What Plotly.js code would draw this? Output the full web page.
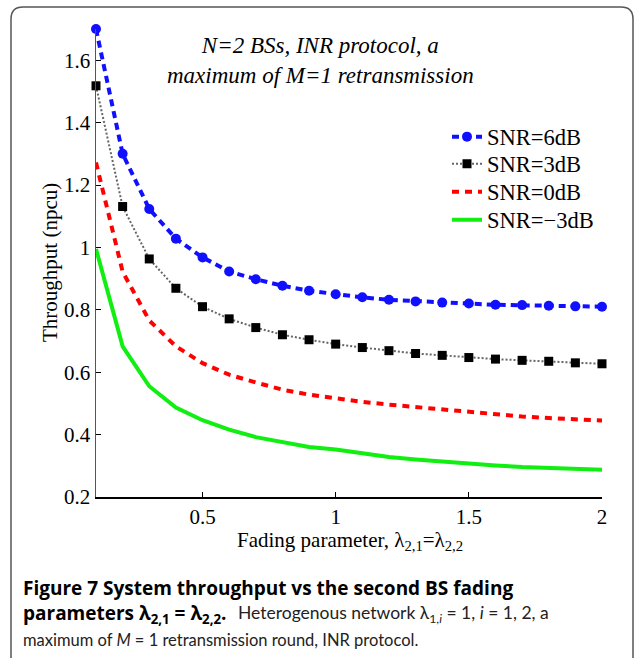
<!DOCTYPE html>
<html>
<head>
<meta charset="utf-8">
<script src="https://cdn.plot.ly/plotly-3.0.1.min.js"></script>
<style>html,body{margin:0;padding:0;background:#fff;}#chart{width:635px;height:658px;}</style>
</head>
<body>
<div id="chart"></div>
<script>
// ---- data ----
const fading = [0.1, 0.2, 0.3, 0.4, 0.5, 0.6, 0.7, 0.8, 0.9, 1.0, 1.1, 1.2, 1.3, 1.4, 1.5, 1.6, 1.7, 1.8, 1.9, 2.0];
const snr6  = [1.700, 1.300, 1.123, 1.028, 0.968, 0.923, 0.898, 0.877, 0.861, 0.850, 0.840, 0.832, 0.827, 0.823, 0.820, 0.816, 0.815, 0.813, 0.811, 0.810];
const snr3  = [1.518, 1.131, 0.963, 0.869, 0.810, 0.771, 0.743, 0.720, 0.704, 0.690, 0.679, 0.669, 0.660, 0.654, 0.647, 0.642, 0.638, 0.635, 0.630, 0.627];
const snr0  = [1.272, 0.922, 0.766, 0.683, 0.629, 0.592, 0.567, 0.544, 0.528, 0.515, 0.505, 0.496, 0.488, 0.480, 0.471, 0.465, 0.458, 0.453, 0.449, 0.445];
const snrm3 = [0.995, 0.683, 0.555, 0.487, 0.446, 0.416, 0.392, 0.375, 0.360, 0.352, 0.339, 0.328, 0.320, 0.313, 0.306, 0.301, 0.296, 0.292, 0.289, 0.287];
const seriesNames = ['SNR=6dB', 'SNR=3dB', 'SNR=0dB', 'SNR=\u22123dB'];
const yTickVals = [0.2, 0.4, 0.6, 0.8, 1.0, 1.2, 1.4, 1.6];
const yTickText = ['0.2', '0.4', '0.6', '0.8', '1', '1.2', '1.4', '1.6'];
const xTickVals = [0.5, 1.0, 1.5, 2.0];
const xTickText = ['0.5', '1', '1.5', '2'];

// ---- geometry ----
const W = 635, H = 658;
const L = 96, R = 602, T = 29, B = 497;
const px2x = p => (p - L) / (R - L);
const px2y = p => (B - p) / (B - T);

const serif = 'Liberation Serif, Times New Roman, serif';
const sansBold = 'Open Sans, Lato, sans-serif';
const sans = 'Lato, Open Sans, sans-serif';

const traces = [
  {x: fading, y: snr6, name: seriesNames[0], mode: 'lines+markers', legend: 'legend', cliponaxis: false,
   line: {color: '#1010ff', width: 4, dash: '7px,5px'},
   marker: {symbol: 'circle', size: 10, color: '#1010ff'}},
  {x: fading, y: snr3, name: seriesNames[1], mode: 'lines+markers', legend: 'legend2', cliponaxis: false,
   line: {color: '#666666', width: 2, dash: '2px,2px'},
   marker: {symbol: 'square', size: 9, color: '#000000'}},
  {x: fading, y: snr0, name: seriesNames[2], mode: 'lines', legend: 'legend3', cliponaxis: false,
   line: {color: '#ff0000', width: 4, dash: '7px,6px'}},
  {x: fading, y: snrm3, name: seriesNames[3], mode: 'lines', legend: 'legend4', cliponaxis: false,
   line: {color: '#11ee11', width: 4}}
];

// rounded frame path (paper coords)
const fl = px2x(11), fr = px2x(633), ft = px2y(7), fb = px2y(700);
const rx = 12 / (R - L), ry = 12 / (B - T);
const framePath = `M ${fl},${fb} L ${fl},${ft - ry} Q ${fl},${ft} ${fl + rx},${ft} L ${fr - rx},${ft} Q ${fr},${ft} ${fr},${ft - ry} L ${fr},${fb}`;

function legendAt(rowPx) {
  return {
    x: px2x(447), y: px2y(rowPx), xanchor: 'left', yanchor: 'middle',
    font: {family: serif, size: 22.5, color: '#000'},
    bgcolor: 'rgba(0,0,0,0)', borderwidth: 0, itemwidth: 30
  };
}

const layout = {
  width: W, height: H,
  margin: {l: L, r: W - R, t: T, b: H - B, pad: 0},
  paper_bgcolor: '#ffffff', plot_bgcolor: '#ffffff',
  showlegend: true,
  legend: legendAt(137),
  legend2: legendAt(164),
  legend3: legendAt(192),
  legend4: legendAt(220),
  xaxis: {
    range: [0.1, 2.0], tickvals: xTickVals, ticktext: xTickText,
    ticks: 'inside', ticklen: 5, tickcolor: '#000', tickwidth: 1,
    showline: true, linecolor: '#000', linewidth: 1.5, mirror: false,
    showgrid: false, zeroline: false,
    tickfont: {family: serif, size: 21, color: '#000'}
  },
  yaxis: {
    range: [0.2, 1.7], tickvals: yTickVals, ticktext: yTickText,
    ticks: 'inside', ticklen: 5, tickcolor: '#000', tickwidth: 1,
    showline: true, linecolor: '#555', linewidth: 1.5, mirror: false,
    showgrid: false, zeroline: false,
    tickfont: {family: serif, size: 21, color: '#000'}
  },
  shapes: [
    {type: 'path', xref: 'paper', yref: 'paper', path: framePath,
     line: {color: '#555555', width: 1.5}, fillcolor: 'rgba(0,0,0,0)', layer: 'above'}
  ],
  annotations: [
    // axis titles
    {xref: 'paper', yref: 'paper', x: px2x(350), y: px2y(541), xanchor: 'center', yanchor: 'middle',
     showarrow: false, text: 'Fading parameter, \u03bb<sub>2,1</sub>=\u03bb<sub>2,2</sub>',
     font: {family: serif, size: 21, color: '#000'}},
    {xref: 'paper', yref: 'paper', x: px2x(50), y: px2y(263), xanchor: 'center', yanchor: 'middle',
     showarrow: false, textangle: -90, text: 'Throughput (npcu)',
     font: {family: serif, size: 21, color: '#000'}},
    // in-plot note
    {xref: 'paper', yref: 'paper', x: px2x(320), y: px2y(61), xanchor: 'center', yanchor: 'middle',
     showarrow: false, align: 'center',
     text: '<i>N=2 BSs, INR protocol, a</i><br><i>maximum of M=1 retransmission</i>',
     font: {family: serif, size: 23, color: '#000'}},
    // caption
    {xref: 'paper', yref: 'paper', x: px2x(21), y: px2y(588), xanchor: 'left', yanchor: 'middle',
     showarrow: false, align: 'left',
     text: '<b>Figure 7 System throughput vs the second BS fading</b>',
     font: {family: sansBold, size: 19, color: '#000'}},
    {xref: 'paper', yref: 'paper', x: px2x(21), y: px2y(614), xanchor: 'left', yanchor: 'middle',
     showarrow: false, align: 'left',
     text: '<b>parameters \u03bb<sub>2,1</sub> = \u03bb<sub>2,2</sub>.</b>',
     font: {family: sansBold, size: 19, color: '#000'}},
    {xref: 'paper', yref: 'paper', x: px2x(236), y: px2y(614), xanchor: 'left', yanchor: 'middle',
     showarrow: false, align: 'left',
     text: 'Heterogenous network \u03bb<sub>1,<i>i</i></sub> = 1, <i>i</i> = 1, 2, a',
     font: {family: sans, size: 17.5, color: '#222'}},
    {xref: 'paper', yref: 'paper', x: px2x(21), y: px2y(640), xanchor: 'left', yanchor: 'middle',
     showarrow: false, align: 'left',
     text: 'maximum of <i>M</i> = 1 retransmission round, INR protocol.',
     font: {family: sans, size: 16.5, color: '#222'}}
  ]
};

Plotly.newPlot('chart', traces, layout, {staticPlot: true, displayModeBar: false});
</script>
</body>
</html>
